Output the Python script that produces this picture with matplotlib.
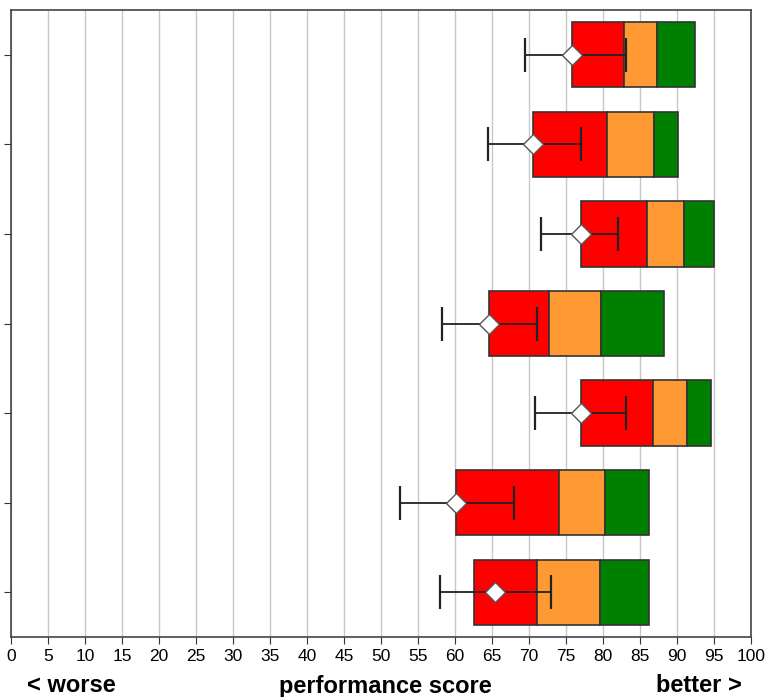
import matplotlib.pyplot as plt
import numpy as np

# one row per item, top to bottom
starts = [75.8, 70.6, 77.0, 64.6, 77.0, 60.2, 62.6]
red_end = [82.9, 80.6, 86.0, 72.7, 86.7, 74.0, 71.1]
orange_end = [87.3, 86.9, 91.0, 79.7, 91.4, 80.3, 79.6]
green_end = [92.4, 90.1, 95.0, 88.2, 94.6, 86.2, 86.2]
means = [75.8, 70.6, 77.0, 64.6, 77.0, 60.2, 65.4]
err_lo = [69.4, 64.5, 71.6, 58.3, 70.8, 52.6, 58.0]
err_hi = [83.1, 77.0, 82.0, 71.1, 83.1, 68.0, 73.0]
x_ticks = list(range(0, 101, 5))

font = ['Liberation Sans', 'DejaVu Sans']

fig = plt.figure(figsize=(7.65, 6.97), dpi=100)
ax = fig.add_axes([11 / 765, 60 / 697, 740 / 765, 627 / 697])

y = np.arange(len(starts))
s = np.array(starts)
r = np.array(red_end)
o = np.array(orange_end)
g = np.array(green_end)

h = 0.73
ec = '#333333'
ax.barh(y, r - s, left=s, height=h, color='#ff0000', edgecolor=ec, linewidth=1.2, zorder=2)
ax.barh(y, o - r, left=r, height=h, color='#ff9933', edgecolor=ec, linewidth=1.2, zorder=2)
ax.barh(y, g - o, left=o, height=h, color='#008000', edgecolor=ec, linewidth=1.2, zorder=2)

m = np.array(means)
xerr = [m - np.array(err_lo), np.array(err_hi) - m]
ax.errorbar(m, y, xerr=xerr, fmt='none', ecolor='#222222', elinewidth=1.3,
            capsize=12, capthick=1.6, zorder=3)
ax.plot(m, y, 'D', ms=10, mfc='white', mec='#555555', mew=1.0, zorder=4)

ax.set_xlim(0, 100)
ax.set_ylim(len(starts) - 0.5, -0.5)
ax.set_xticks(x_ticks)
ax.set_xticklabels([str(t) for t in x_ticks], family=font, fontsize=12.5)
ax.set_yticks(y)
ax.set_yticklabels([])
ax.tick_params(axis='both', direction='out', length=5, color='#333333')
ax.grid(axis='x', color='#c8c8c8', linewidth=1)
ax.set_axisbelow(True)
for sp in ax.spines.values():
    sp.set_color('#444444')
    sp.set_linewidth(1.2)

fig.text(27 / 765, 11 / 697, '< worse', fontsize=17, fontweight='bold', family=font,
         ha='left', va='center')
fig.text(385 / 765, 11 / 697, 'performance score', fontsize=17, fontweight='bold',
         family=font, ha='center', va='center')
fig.text(742 / 765, 11 / 697, 'better >', fontsize=17, fontweight='bold', family=font,
         ha='right', va='center')

fig.savefig('out.png', dpi=100)
